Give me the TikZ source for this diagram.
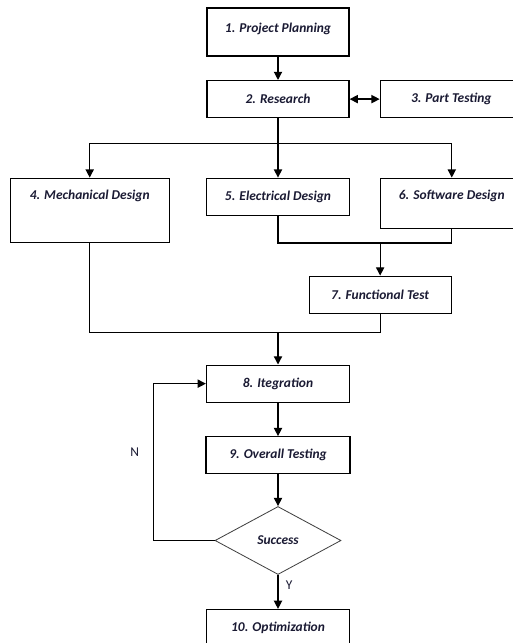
\documentclass[tikz,border=0pt]{standalone}
\usepackage{fontspec}
\setmainfont{Carlito}
\usetikzlibrary{arrows.meta,positioning,shapes.geometric}
\definecolor{cnavy}{HTML}{1A1A33}

\begin{document}
\begin{tikzpicture}[
    box/.style={draw, line width=1.1pt, minimum width=4.26cm, minimum height=1.11cm,
                font=\fontsize{11.5}{13}\selectfont\bfseries\itshape, text=cnavy, align=center},
    topbox/.style={box, inner ysep=0pt, text height=0.66cm, text depth=#1},
    decision/.style={diamond, draw=black!75, line width=0.7pt, minimum width=3.78cm,
                minimum height=2.04cm, inner sep=0pt,
                font=\fontsize{11.5}{13}\selectfont\bfseries\itshape, text=cnavy},
    arr/.style={-{Triangle[length=7pt, width=7pt]}, line width=1.1pt},
    both/.style={{Triangle[length=7pt, width=7pt]}-{Triangle[length=7pt, width=7pt]}, line width=1.1pt},
    wire/.style={line width=1.1pt},
    yn/.style={font=\fontsize{11.5}{13}\selectfont, text=cnavy},
]
\useasboundingbox (0,0) rectangle (15.36,-19.29);

% Planning and research
\node[topbox=0.7cm, text height=0.74cm, minimum height=1.44cm] (plan) at (8.34,-0.96) {1. Project Planning};
\node[box, below=0.7cm of plan] (research) {2. Research};
\node[box, right=0.9cm of research] (parttest) {3. Part Testing};

% Design branches
\node[box, below=1.78cm of research, minimum width=4.29cm] (elec) {5. Electrical Design};
\node[topbox=1.28cm, text height=0.64cm, minimum width=4.77cm, minimum height=1.92cm,
      left=1.08cm of elec.north west, anchor=north east] (mech) {4. Mechanical Design};
\node[topbox=0.86cm, text height=0.64cm, minimum height=1.5cm,
      right=0.9cm of elec.north east, anchor=north west] (soft) {6. Software Design};

% Merge points
\coordinate[below=0.75cm of research.south] (split);
\coordinate (m56) at (mech.south -| soft.west);
\node[box, below=0.98cm of m56] (func) {7. Functional Test};
\coordinate[below=0.55cm of func.south] (m47);
\coordinate (drop) at (m47 -| elec.south);

% Integration loop
\node[box, below=0.97cm of drop, minimum width=4.29cm] (integ) {8. Itegration};
\node[box, below=1.0cm of integ, minimum width=4.32cm] (test) {9. Overall Testing};
\node[decision, below=0.95cm of test] (success) {Success};
\node[box, below=1.02cm of success, minimum width=4.29cm] (optim) {10. Optimization};
\coordinate[left=1.83cm of success.west] (back);

% Arrows
\draw[arr]  (plan) -- (research);
\draw[both] (research) -- (parttest);
\draw[wire] (research) -- (split);
\draw[arr]  (split) -| (mech.north);
\draw[arr]  (split) -- (elec);
\draw[arr]  (split) -| (soft.north);

\draw[wire] (elec.south) |- (m56 -| soft.south) -- (soft.south);
\draw[arr]  (m56) -- (func);
\draw[wire] (mech.south) |- (m47) -- (func.south);
\draw[arr]  (drop) -- (integ);

\draw[arr] (integ) -- (test);
\draw[arr] (test) -- (success);
\draw[arr] (success) -- node[pos=0.31, right=0.1cm, yn] {Y} (optim);
\draw[arr] (success.west) -- (back) |- node[pos=0.28, left=0.3cm, yn] {N} (integ.west);

\end{tikzpicture}
\end{document}
